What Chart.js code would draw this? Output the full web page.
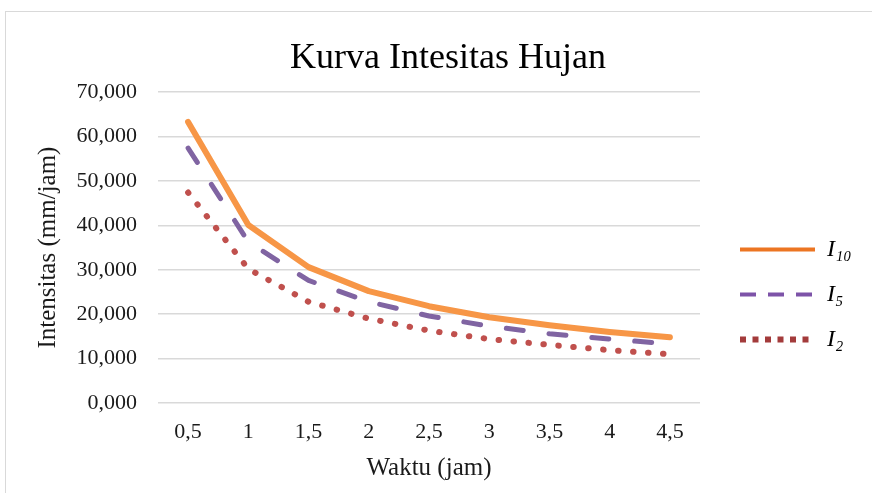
<!DOCTYPE html>
<html>
<head>
<meta charset="utf-8">
<script src="https://cdn.jsdelivr.net/npm/chart.js@4.4.0/dist/chart.umd.min.js"></script>
<style>
  html, body { margin: 0; padding: 0; background: #fff; }
</style>
</head>
<body>
<canvas id="kurva" width="872" height="493"></canvas>
<script>
// data (mm/jam)
var waktu = ['0,5', '1', '1,5', '2', '2,5', '3', '3,5', '4', '4,5'];
var i10 = [63.3, 40.1, 30.6, 25.2, 21.8, 19.3, 17.5, 16.0, 14.8];
var i5 = [57.4, 36.3, 27.6, 22.8, 19.6, 17.3, 15.6, 14.4, 13.3];
var i2 = [47.4, 30.2, 22.8, 19.0, 16.3, 14.4, 13.1, 11.9, 11.0];
var seriesNames = ['I\u2081\u2080', 'I\u2085', 'I\u2082'];
var legendColors = ['#ec7522', '#7d53a8', '#a33b3b'];

var serif = "'Liberation Serif', 'Times New Roman', serif";

// light grey frame round the chart, like the exported picture
var frame = {
  id: 'frame',
  beforeDraw: function(chart) {
    var c = chart.ctx;
    c.save();
    c.strokeStyle = '#d9d9d9';
    c.lineWidth = 1;
    c.strokeRect(5.5, 11.5, 900, 600);
    c.restore();
  }
};

// fixed legend width so the plot keeps its place
var legendWidth = {
  id: 'legendWidth',
  beforeLayout: function(chart) {
    var lg = chart.legend;
    if (lg && !lg._fixedW) {
      var fit = lg.fit;
      lg.fit = function() {
        fit.call(this);
        this.width = 153;
      };
      lg._fixedW = true;
    }
  }
};

var ctx = document.getElementById('kurva').getContext('2d');
var kurva = new Chart(ctx, {
  type: 'line',
  data: {
    labels: waktu,
    datasets: [{
      label: seriesNames[0],
      data: i10,
      borderColor: '#f79646',
      backgroundColor: '#f79646',
      borderWidth: 6,
      borderCapStyle: 'round',
      borderJoinStyle: 'round',
      pointRadius: 0,
      pointStyle: 'line',
      tension: 0,
      fill: false
    }, {
      label: seriesNames[1],
      data: i5,
      borderColor: '#8064a2',
      backgroundColor: '#8064a2',
      borderWidth: 5,
      borderDash: [17, 26],
      borderCapStyle: 'round',
      borderJoinStyle: 'round',
      pointRadius: 0,
      pointStyle: 'line',
      tension: 0,
      fill: false
    }, {
      label: seriesNames[2],
      data: i2,
      borderColor: '#c0504d',
      backgroundColor: '#c0504d',
      borderWidth: 6,
      borderDash: [0.5, 14.5],
      borderCapStyle: 'round',
      borderJoinStyle: 'round',
      pointRadius: 0,
      pointStyle: 'line',
      tension: 0,
      fill: false
    }]
  },
  options: {
    responsive: false,
    animation: false,
    layout: {
      padding: { left: 24, right: 0, top: 10, bottom: 0 }
    },
    plugins: {
      title: {
        display: true,
        text: 'Kurva Intesitas Hujan',
        color: '#000',
        font: { family: serif, size: 36, weight: 'normal' },
        padding: { top: 27, bottom: 12 }
      },
      legend: {
        display: true,
        position: 'right',
        // empty title only pushes the entries down
        title: {
          display: true,
          text: ' ',
          font: { size: 10 },
          padding: { top: 37, bottom: 37 }
        },
        labels: {
          usePointStyle: true,
          pointStyleWidth: 75,
          padding: 21,
          color: '#000',
          font: { family: serif, size: 24, style: 'italic' },
          generateLabels: function(chart) {
            var dashes = [[], [16, 12], [6, 6.5]];
            var widths = [4, 4, 6];
            return chart.data.datasets.map(function(ds, i) {
              return {
                text: ds.label,
                datasetIndex: i,
                pointStyle: 'line',
                strokeStyle: legendColors[i],
                fillStyle: legendColors[i],
                lineWidth: widths[i],
                lineDash: dashes[i],
                lineCap: 'butt',
                fontColor: '#000'
              };
            });
          }
        }
      },
      tooltip: { enabled: false }
    },
    scales: {
      x: {
        offset: true,
        grid: { display: false, drawTicks: false },
        border: { display: false },
        ticks: {
          padding: 16,
          color: '#1a1a1a',
          font: { family: serif, size: 22 }
        },
        title: {
          display: true,
          text: 'Waktu (jam)',
          color: '#1a1a1a',
          font: { family: serif, size: 25 },
          padding: { top: 0, bottom: 10 }
        },
        afterFit: function(s) { s.height = 90; }
      },
      y: {
        min: 0,
        max: 70,
        grid: { color: '#d9d9d9', lineWidth: 1.5, drawTicks: false },
        border: { display: false },
        ticks: {
          stepSize: 10,
          padding: 21,
          color: '#1a1a1a',
          font: { family: serif, size: 22 },
          callback: function(v) { return v.toFixed(3).replace('.', ','); }
        },
        title: {
          display: true,
          text: 'Intensitas (mm/jam)',
          color: '#1a1a1a',
          font: { family: serif, size: 25 },
          padding: { top: 9, bottom: 0 }
        },
        afterFit: function(s) { s.width = 134; }
      },
      // empty gap between plot and legend
      y2: {
        position: 'right',
        display: true,
        grid: { display: false, drawTicks: false },
        border: { display: false },
        ticks: { display: false },
        afterFit: function(s) { s.width = 19; }
      }
    }
  },
  plugins: [frame, legendWidth]
});
</script>
</body>
</html>
